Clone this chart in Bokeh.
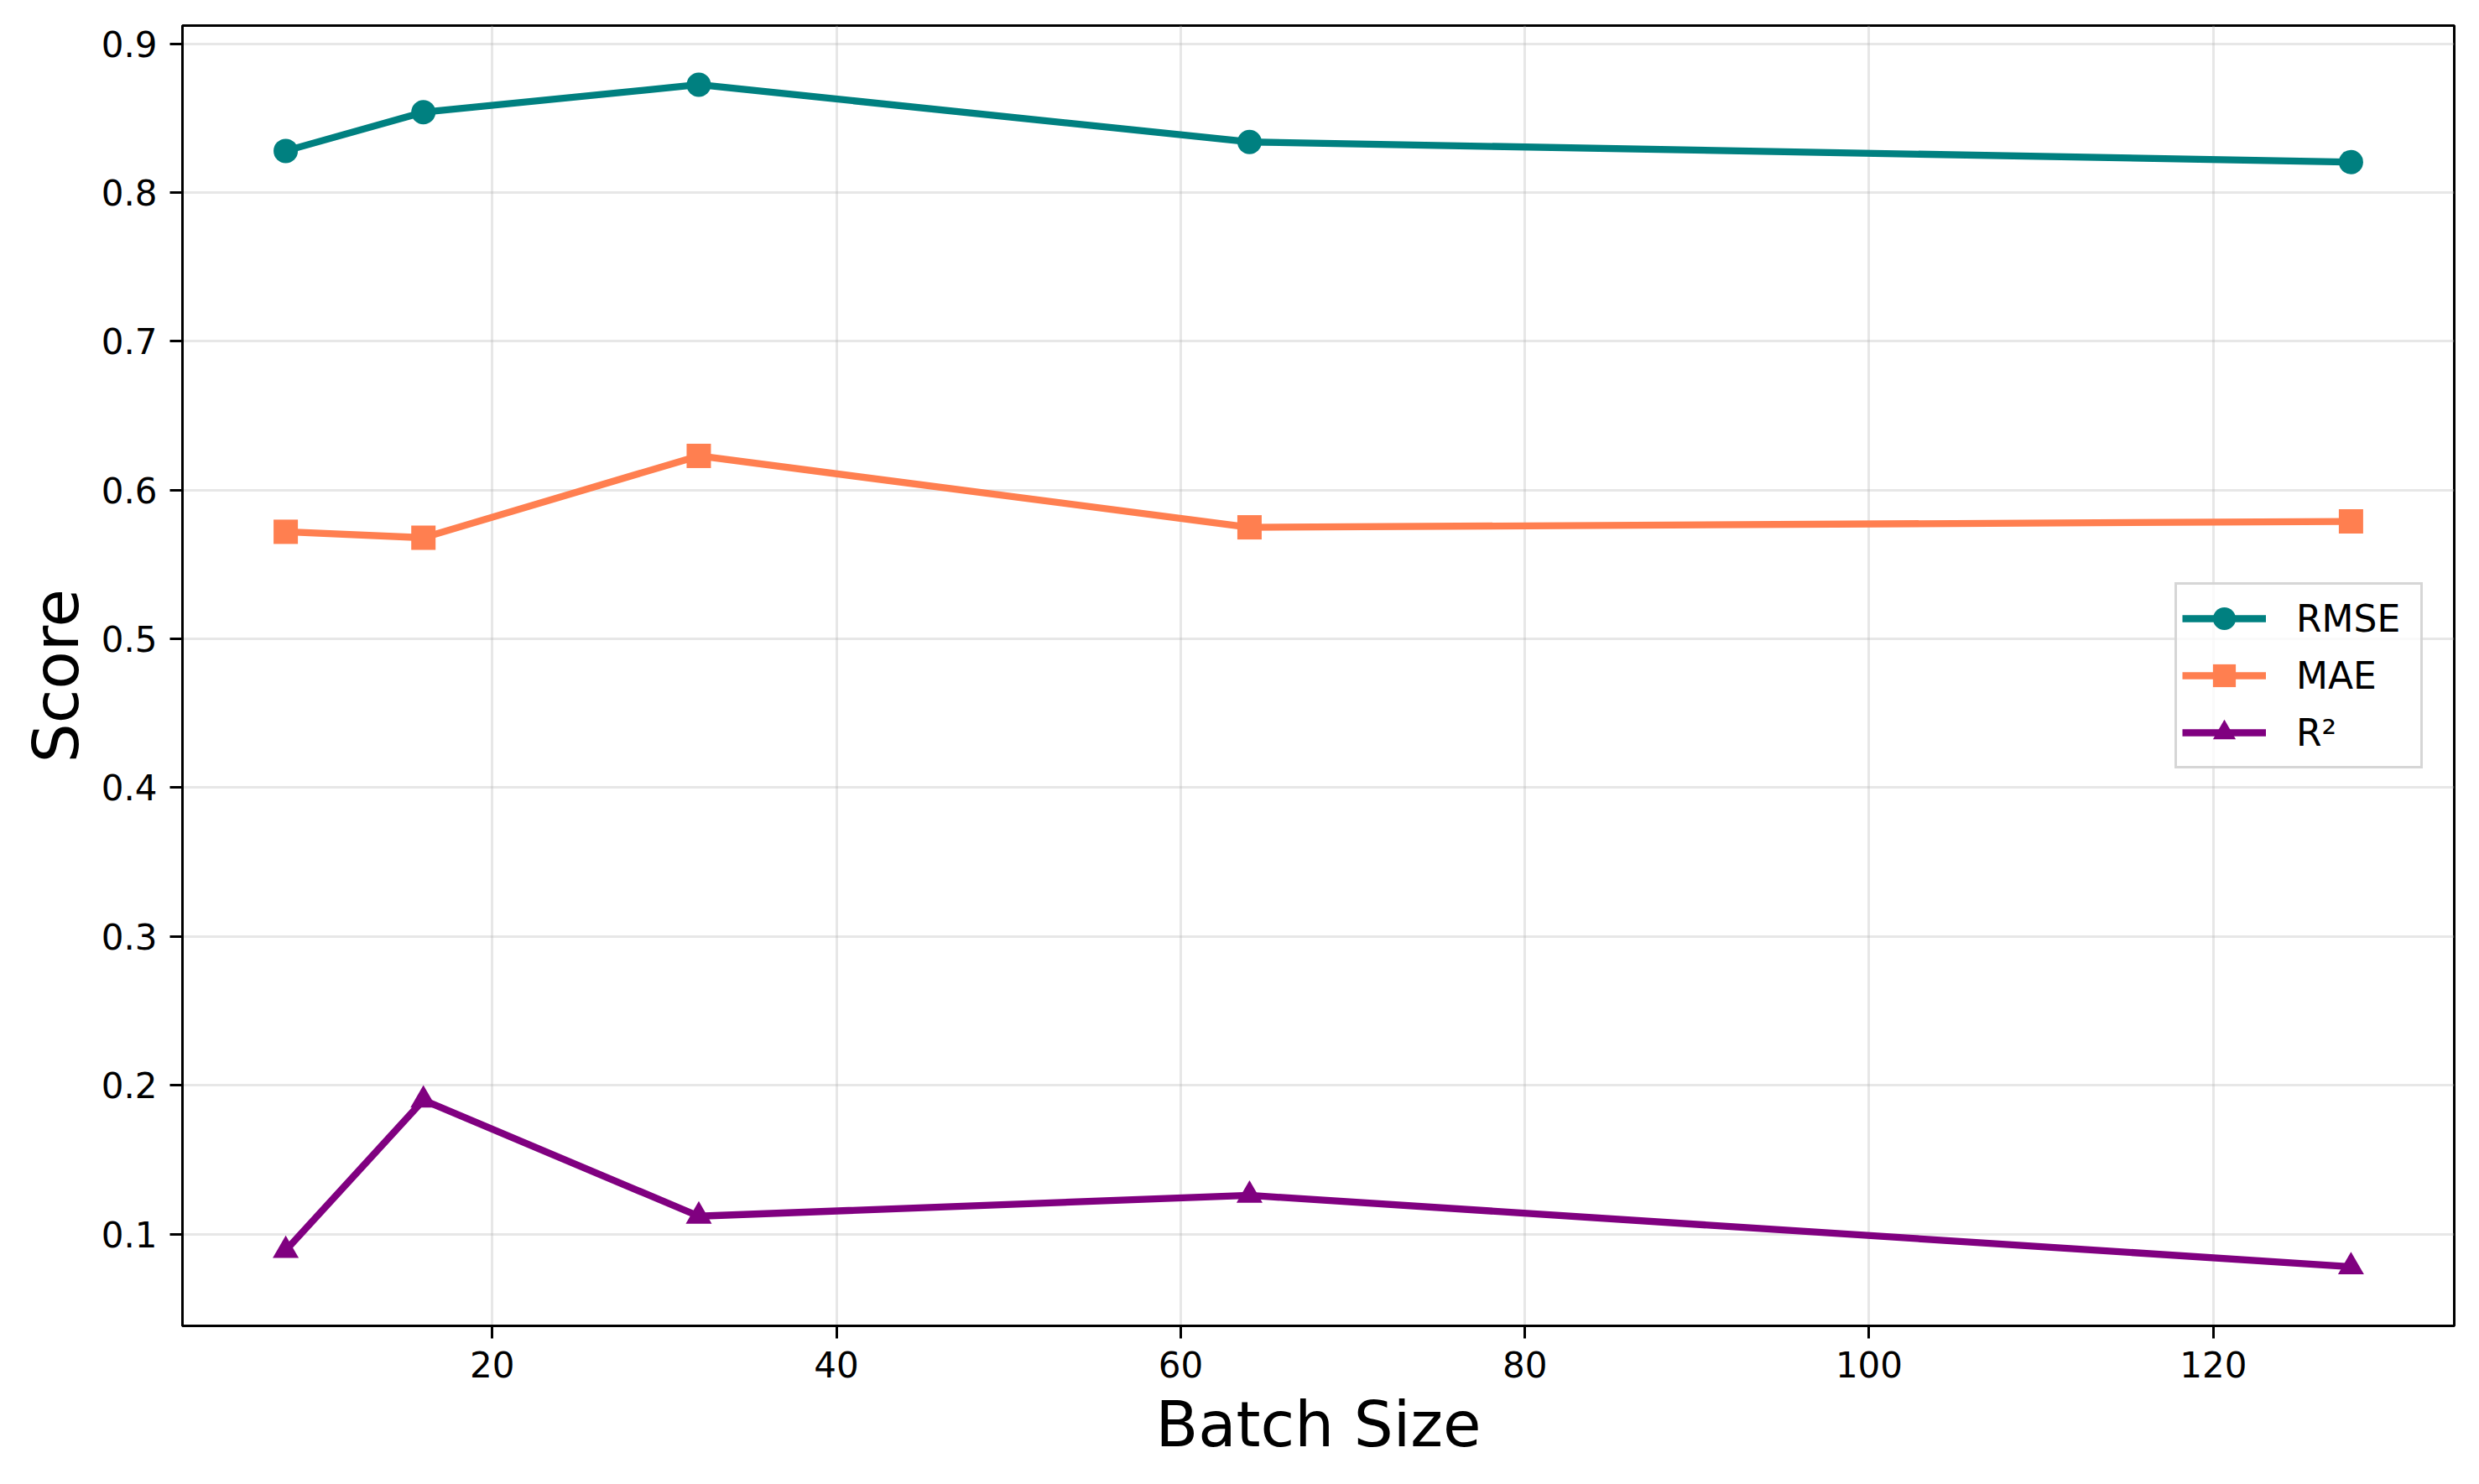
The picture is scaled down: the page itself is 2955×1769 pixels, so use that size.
from bokeh.plotting import figure
from bokeh.models import Range1d, FixedTicker, Legend, LegendItem
from bokeh.embed import file_html
from bokeh.resources import INLINE

# ---- data ----
batch_sizes = [8, 16, 32, 64, 128]
rmse = [0.828, 0.854, 0.8725, 0.834, 0.8205]
mae = [0.572, 0.568, 0.623, 0.575, 0.579]
r2 = [0.089, 0.190, 0.112, 0.126, 0.078]

series_names = ["RMSE", "MAE", "R²"]
series_colors = ["#008080", "#FF7F50", "#800080"]
series_markers = ["circle", "square", "triangle"]

x_ticks = [20, 40, 60, 80, 100, 120]
y_ticks = [0.1, 0.2, 0.3, 0.4, 0.5, 0.6, 0.7, 0.8, 0.9]

FONT = "DejaVu Sans"

# axis ranges with 5% padding like matplotlib
all_y = rmse + mae + r2
ymin, ymax = min(all_y), max(all_y)
ypad = (ymax - ymin) * 0.05
xmin, xmax = min(batch_sizes), max(batch_sizes)
xpad = (xmax - xmin) * 0.05

p = figure(width=2939, height=1753, output_backend="svg", toolbar_location=None,
           x_range=Range1d(xmin - xpad, xmax + xpad),
           y_range=Range1d(ymin - ypad, ymax + ypad),
           min_border_left=217, min_border_right=14,
           min_border_top=30, min_border_bottom=173,
           background_fill_color="white", border_fill_color="white")

p.outline_line_color = "black"
p.outline_line_width = 3

p.xaxis.ticker = FixedTicker(ticks=x_ticks)
p.yaxis.ticker = FixedTicker(ticks=y_ticks)

for ax in (p.xaxis, p.yaxis):
    ax.axis_line_color = "black"
    ax.axis_line_width = 3
    ax.major_tick_line_color = "black"
    ax.major_tick_line_width = 3
    ax.major_tick_out = 15
    ax.major_tick_in = 0
    ax.minor_tick_line_color = None
    ax.major_label_text_font = FONT
    ax.major_label_text_font_size = "42px"
    ax.major_label_text_color = "black"
    ax.major_label_standoff = 15
    ax.axis_label_text_font = FONT
    ax.axis_label_text_font_size = "74px"
    ax.axis_label_text_font_style = "normal"
    ax.axis_label_text_color = "black"

p.xaxis.axis_label = "Batch Size"
p.yaxis.axis_label = "Score"
p.xaxis.axis_label_standoff = 10
p.yaxis.axis_label_standoff = 8

for g in (p.xgrid, p.ygrid):
    g.grid_line_color = "#b0b0b0"
    g.grid_line_alpha = 0.3
    g.grid_line_width = 3

items = []
for name, ys, color, marker in zip(series_names, [rmse, mae, r2], series_colors, series_markers):
    ln = p.line(batch_sizes, ys, line_color=color, line_width=8.3, line_join="round")
    size = 31 if marker == "triangle" else 29
    sc = p.scatter(batch_sizes, ys, marker=marker, size=size,
                   fill_color=color, line_color=color, line_width=0)
    items.append(LegendItem(label=name, renderers=[ln, sc]))

legend = Legend(items=items, location="center_right", margin=37,
                label_text_font=FONT, label_text_font_size="44px",
                label_text_color="black",
                glyph_width=100, glyph_height=68, label_height=68,
                label_width=142,
                spacing=0, padding=6, label_standoff=36,
                border_line_color="#cccccc", border_line_alpha=0.8,
                border_line_width=3,
                background_fill_color="white", background_fill_alpha=0.8)
p.add_layout(legend)

open("out.html", "w").write(file_html(p, INLINE))
